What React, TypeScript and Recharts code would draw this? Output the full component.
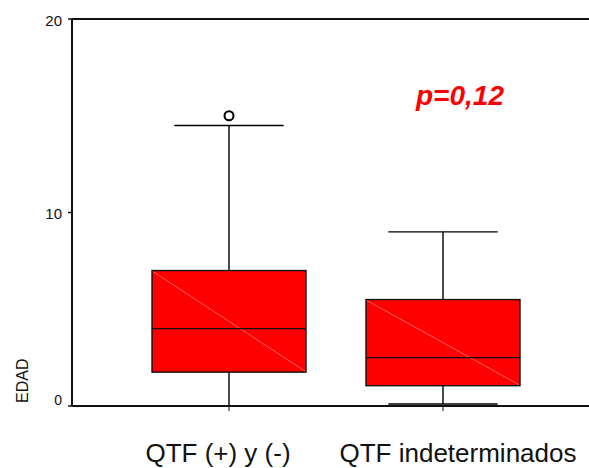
import { ComposedChart, Bar, Scatter, XAxis, YAxis, ReferenceLine } from 'recharts';

const FONT = '"Liberation Sans", Arial, sans-serif';

// groups + box stats
const groups = ['QTF (+) y (-)', 'QTF indeterminados'];
const whiskerLow = [0, 0.1];
const lowerQuartile = [1.75, 1.05];
const medians = [4, 2.5];
const upperQuartile = [7, 5.5];
const whiskerHigh = [14.5, 9];
const outliers: (number | null)[] = [15, null];
const yTicks = [0, 10, 20];
const pValueText = 'p=0,12';

const data = groups.map((name, i) => ({
  name,
  min: whiskerLow[i],
  q1: lowerQuartile[i],
  median: medians[i],
  q3: upperQuartile[i],
  max: whiskerHigh[i],
  outlier: outliers[i],
}));

const BoxShape = (props: any) => {
  const { x, y, width, height } = props;
  const d = props.payload ?? props;
  if (x == null || y == null) return null;
  const top = Math.min(y, y + height);
  const bottom = Math.max(y, y + height);
  // map a value to pixel using the bar's own whisker span
  const px = (v: number) => bottom - ((bottom - top) * (v - d.min)) / (d.max - d.min);
  const cx = x + width / 2;
  const capHalf = width * 0.355;
  const yMax = px(d.max);
  const yMin = px(d.min);
  const yQ3 = px(d.q3);
  const yQ1 = px(d.q1);
  const yMed = px(d.median);
  return (
    <g>
      <line x1={cx} x2={cx} y1={yMax} y2={yQ3} stroke="#000" strokeWidth={1.4} />
      <line x1={cx} x2={cx} y1={yQ1} y2={yMin} stroke="#000" strokeWidth={1.4} />
      <line x1={cx - capHalf} x2={cx + capHalf} y1={yMax} y2={yMax} stroke="#000" strokeWidth={1.4} />
      <line x1={cx - capHalf} x2={cx + capHalf} y1={yMin} y2={yMin} stroke="#000" strokeWidth={1.4} />
      <rect x={x} y={yQ3} width={width} height={yQ1 - yQ3} fill="#ff0000" stroke="#111" strokeWidth={1.4} />
      <line x1={x + 1} y1={yQ3 + 1} x2={x + width - 1} y2={yQ1 - 1} stroke="#ff7a7a" strokeWidth={0.8} />
      <line x1={x} x2={x + width} y1={yMed} y2={yMed} stroke="#111" strokeWidth={1.4} />
    </g>
  );
};

const OutlierDot = (props: any) => {
  const { cx, cy, payload } = props;
  if (payload?.outlier == null || !Number.isFinite(cy)) return <g />;
  return <circle cx={cx} cy={cy} r={4.5} fill="#fff" stroke="#000" strokeWidth={2} />;
};

const labelShift = [-11, 15];

const GroupTick = ({ x, y, payload, index }: any) => (
  <text
    x={x + (labelShift[index] ?? 0)}
    y={y + 49}
    textAnchor="middle"
    fontSize={26}
    fontFamily={FONT}
    fill="#111"
  >
    {payload.value}
  </text>
);

const ValueTick = ({ x, y, payload }: any) => (
  <text
    x={x}
    y={y}
    dy={payload.value === 0 ? -6 : 1}
    textAnchor="end"
    dominantBaseline="central"
    fontSize={payload.value === 0 ? 14 : 15}
    fontFamily={FONT}
    fill="#111"
  >
    {payload.value}
  </text>
);

const AxisTitle = ({ viewBox }: any) => {
  const vx = viewBox?.x ?? 0;
  const vy = (viewBox?.y ?? 0) + (viewBox?.height ?? 0);
  const tx = vx + 27.5;
  const ty = vy - 3;
  return (
    <text
      x={tx}
      y={ty}
      transform={`rotate(-90, ${tx}, ${ty})`}
      textAnchor="start"
      fontSize={16}
      fontFamily={FONT}
      fill="#111"
    >
      EDAD
    </text>
  );
};

export default function App() {
  return (
    <div style={{ position: 'absolute', left: 0, top: 0, width: 589, height: 468, background: '#fff' }}>
      <ComposedChart
        width={589}
        height={468}
        data={data}
        margin={{ top: 19, right: 0, bottom: 0, left: 0 }}
      >
        <XAxis
          dataKey="name"
          type="category"
          interval={0}
          padding={{ left: 50, right: 39 }}
          height={62}
          axisLine={{ stroke: '#111', strokeWidth: 2 }}
          tickLine={{ stroke: '#111', strokeWidth: 1 }}
          tickSize={5}
          tick={<GroupTick />}
        />
        <YAxis
          type="number"
          domain={[0, 20]}
          ticks={yTicks}
          width={72}
          axisLine={{ stroke: '#111', strokeWidth: 2 }}
          tickLine={{ stroke: '#111', strokeWidth: 1.5 }}
          tickSize={4}
          tickMargin={6}
          tick={<ValueTick />}
          label={<AxisTitle />}
        />
        <ReferenceLine y={20} stroke="#111" strokeWidth={2} />
        <Bar
          dataKey={(d: any) => [d.min, d.max]}
          barSize={154}
          shape={<BoxShape />}
          isAnimationActive={false}
        />
        <Scatter dataKey="outlier" shape={<OutlierDot />} isAnimationActive={false} />
      </ComposedChart>
      <div
        style={{
          position: 'absolute',
          left: 400,
          top: 82,
          width: 120,
          textAlign: 'center',
          fontFamily: FONT,
          fontSize: 28,
          lineHeight: '28px',
          fontWeight: 700,
          fontStyle: 'italic',
          color: '#ff0000',
        }}
      >
        {pValueText}
      </div>
    </div>
  );
}
